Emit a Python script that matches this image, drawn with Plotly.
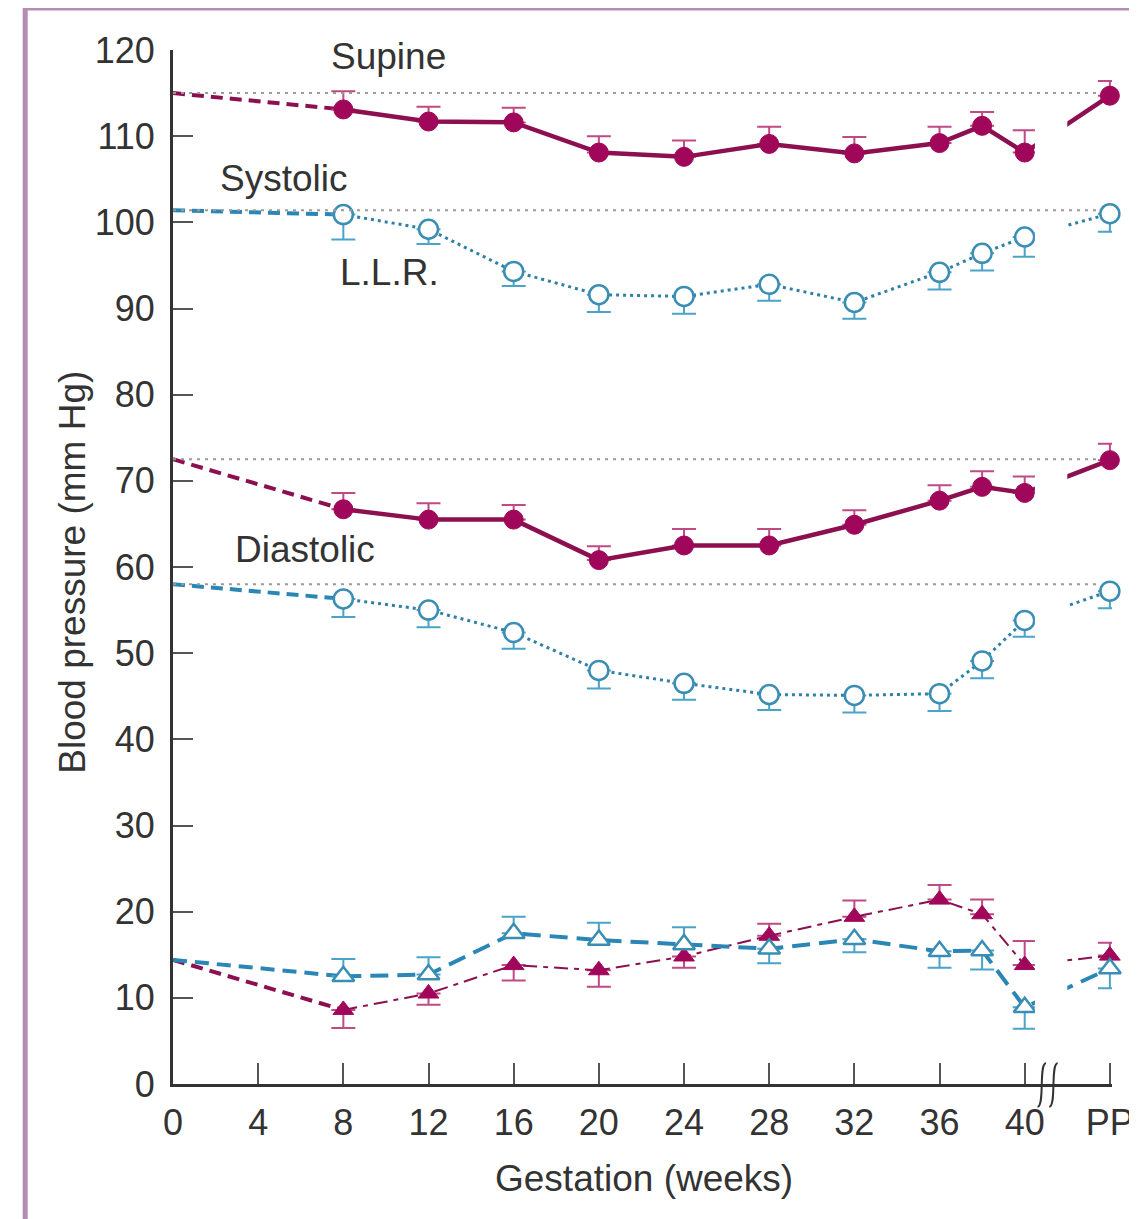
import plotly.graph_objects as go

# ---------------- data ----------------
weeks = [8, 12, 16, 20, 24, 28, 32, 36, 38, 40, 44]          # 44 = PP (postpartum)
x_tick_vals = [0, 4, 8, 12, 16, 20, 24, 28, 32, 36, 40, 44]
x_tick_text = ["0", "4", "8", "12", "16", "20", "24", "28", "32", "36", "40", "PP"]
y_tick_vals = [0, 10, 20, 30, 40, 50, 60, 70, 80, 90, 100, 110, 120]

# non-pregnant baseline values (week 0)
base_sys_supine = 115.0
base_sys_llr = 101.4
base_dia_supine = 72.5
base_dia_llr = 58.0
base_pulse_supine = 14.4
base_pulse_llr = 14.4

sys_supine = [113.1, 111.7, 111.6, 108.1, 107.6, 109.1, 108.0, 109.2, 111.2, 108.1, 114.7]
sys_supine_err = [2.1, 1.7, 1.7, 1.9, 1.9, 2.0, 1.9, 1.9, 1.6, 2.6, 1.7]

sys_llr = [100.9, 99.2, 94.3, 91.6, 91.4, 92.8, 90.7, 94.2, 96.4, 98.3, 101.0]
sys_llr_err = [2.9, 1.7, 1.7, 2.0, 2.0, 1.9, 1.9, 2.0, 2.0, 2.3, 2.1]

dia_supine = [66.7, 65.5, 65.5, 60.8, 62.5, 62.5, 64.9, 67.7, 69.3, 68.6, 72.4]
dia_supine_err = [1.9, 1.9, 1.7, 1.6, 1.9, 1.9, 1.7, 1.8, 1.8, 1.9, 1.9]

dia_llr = [56.3, 55.0, 52.4, 48.0, 46.5, 45.2, 45.1, 45.3, 49.1, 53.8, 57.2]
dia_llr_err = [2.1, 2.0, 1.9, 2.1, 1.9, 1.8, 2.0, 2.0, 2.0, 1.9, 2.0]

pulse_supine = [8.6, 10.5, 13.8, 13.2, 14.8, 17.2, 19.4, 21.4, 19.7, 13.8, 14.9]
pulse_supine_err_up = [0, 0, 0, 0, 0, 1.4, 1.9, 1.7, 1.7, 2.8, 1.5]
pulse_supine_err_down = [2.1, 1.3, 1.8, 1.9, 1.3, 0, 0, 0, 0, 0, 0]

pulse_llr = [12.5, 12.7, 17.5, 16.7, 16.2, 15.7, 16.8, 15.4, 15.5, 8.9, 13.4]
pulse_llr_err_up = [2.0, 2.0, 1.9, 2.0, 2.0, 0, 0, 0, 0, 0, 0]
pulse_llr_err_down = [0, 0, 0, 0, 0, 1.7, 1.5, 1.9, 2.2, 2.5, 2.3]

labels = [("Supine", 10.1, 119.2), ("Systolic", 5.2, 105.1),
          ("L.L.R.", 10.15, 94.2), ("Diastolic", 6.2, 62.0)]

# ---------------- styles ----------------
MAG = "#a0065a"
MAG_LINE = "#8c1050"
MAG_ERR = "#bf4a85"
CYA = "#3a8db3"
CYA_LINE = "#2f80a6"
CYA_DASH = "#2a86b5"
CYA_ERR = "#4aa3c8"
GRAY_DOT = "#9a9a9a"
TXT = "#333333"
FONT = "Liberation Sans, Arial, sans-serif"

fig = go.Figure()

def err(up, down, color):
    return dict(type="data", symmetric=False, array=up, arrayminus=down,
                color=color, thickness=2, width=12)

zeros = [0] * len(weeks)

# ---- pulse (triangles) ----
fig.add_trace(go.Scatter(x=[0, weeks[0]], y=[base_pulse_supine, pulse_supine[0]], mode="lines",
                         line=dict(color=MAG_LINE, width=4, dash="12px,7px"), hoverinfo="skip"))
fig.add_trace(go.Scatter(x=[0, weeks[0]], y=[base_pulse_llr, pulse_llr[0]], mode="lines",
                         line=dict(color=CYA_DASH, width=4, dash="14px,8px"), hoverinfo="skip"))
fig.add_trace(go.Scatter(x=weeks, y=pulse_supine, mode="lines+markers",
                         line=dict(color=MAG_LINE, width=2, dash="14px,6px,5px,6px"),
                         marker=dict(symbol="triangle-up", size=18, color=MAG,
                                     line=dict(color=MAG, width=1)),
                         error_y=err(pulse_supine_err_up, pulse_supine_err_down, MAG_ERR)))
fig.add_trace(go.Scatter(x=weeks, y=pulse_llr, mode="lines+markers",
                         line=dict(color=CYA_DASH, width=4, dash="18px,9px"),
                         marker=dict(symbol="triangle-up", size=19, color="white",
                                     line=dict(color=CYA, width=2.5)),
                         error_y=err(pulse_llr_err_up, pulse_llr_err_down, CYA_ERR)))

# ---- systolic / diastolic supine (filled circles) ----
for base, vals, e in [(base_sys_supine, sys_supine, sys_supine_err),
                      (base_dia_supine, dia_supine, dia_supine_err)]:
    fig.add_trace(go.Scatter(x=[0, weeks[0]], y=[base, vals[0]], mode="lines",
                             line=dict(color=MAG_LINE, width=4, dash="12px,7px"), hoverinfo="skip"))
    fig.add_trace(go.Scatter(x=weeks, y=vals, mode="lines+markers",
                             line=dict(color=MAG_LINE, width=4.5),
                             marker=dict(symbol="circle", size=19, color=MAG,
                                         line=dict(color=MAG, width=1)),
                             error_y=err(e, zeros, MAG_ERR)))

# ---- systolic / diastolic LLR (open circles) ----
for base, vals, e in [(base_sys_llr, sys_llr, sys_llr_err),
                      (base_dia_llr, dia_llr, dia_llr_err)]:
    fig.add_trace(go.Scatter(x=[0, weeks[0]], y=[base, vals[0]], mode="lines",
                             line=dict(color=CYA_DASH, width=4, dash="12px,7px"), hoverinfo="skip"))
    fig.add_trace(go.Scatter(x=weeks, y=vals, mode="lines+markers",
                             line=dict(color=CYA_LINE, width=3, dash="3px,4px"),
                             marker=dict(symbol="circle", size=19, color="white",
                                         line=dict(color=CYA, width=2.5)),
                             error_y=err(zeros, e, CYA_ERR)))

shapes = []
# axis break: hide the lines between week 40 and the postpartum segment
shapes.append(dict(type="rect", xref="x", yref="y", x0=40.48, x1=42.0, y0=2, y1=119,
                   fillcolor="white", line=dict(width=0), layer="above"))
# baseline dotted reference lines
for b in [base_sys_supine, base_sys_llr, base_dia_supine, base_dia_llr]:
    shapes.append(dict(type="line", xref="x", yref="y", x0=0, x1=43.5, y0=b, y1=b,
                       line=dict(color=GRAY_DOT, width=2, dash="3px,5px"), layer="above"))
# break symbol on x axis
for xc in [40.8, 41.35]:
    yt, yb = 0.02, -0.022
    path = (f"M {xc + 0.2},{yt} C {xc - 0.15},{yt} {xc + 0.15},{yb} {xc - 0.2},{yb}")
    shapes.append(dict(type="path", xref="x", yref="paper", path=path,
                       line=dict(color="#333333", width=2)))
# outer purple frame
shapes.append(dict(type="rect", xref="paper", yref="paper",
                   x0=-0.1574, x1=1.045, y0=-0.15, y1=1.0405,
                   line=dict(color="#b48cb4", width=5), fillcolor="rgba(0,0,0,0)", layer="below"))

annotations = []
for t, x, y in labels:
    annotations.append(dict(text=t, x=x, y=y, xref="x", yref="y", showarrow=False,
                            font=dict(size=37, color=TXT, family=FONT)))
annotations.append(dict(text="Blood pressure (mm Hg)", x=-0.107, y=0.495, xref="paper", yref="paper",
                        showarrow=False, textangle=-90, xanchor="center", yanchor="middle",
                        font=dict(size=37, color=TXT, family=FONT)))
annotations.append(dict(text="Gestation (weeks)", x=0.502, y=-0.091, xref="paper", yref="paper",
                        showarrow=False, xanchor="center", yanchor="middle",
                        font=dict(size=37, color=TXT, family=FONT)))

# the page body has an 8px margin, so the figure is offset by 8px right and down
fig.update_layout(
    width=1137, height=1219,
    margin=dict(l=165, r=33, t=42, b=143),
    paper_bgcolor="white", plot_bgcolor="white",
    showlegend=False,
    font=dict(family=FONT, color=TXT),
    shapes=shapes, annotations=annotations,
    xaxis=dict(range=[0, 44.1], tickvals=x_tick_vals, ticktext=x_tick_text,
               showgrid=False, zeroline=False, showline=True, linecolor="#333333", linewidth=3,
               ticks="inside", ticklen=21, tickwidth=2, tickcolor="#555555",
               tickfont=dict(size=36, color=TXT, family=FONT), ticklabelstandoff=5),
    yaxis=dict(range=[0, 120], tickvals=y_tick_vals,
               showgrid=False, zeroline=False, showline=True, linecolor="#333333", linewidth=3,
               ticks="inside", ticklen=20, tickwidth=2, tickcolor="#555555",
               tickfont=dict(size=36, color=TXT, family=FONT), ticklabelstandoff=8),
)

for tr in fig.data:
    tr.cliponaxis = False

fig.write_html("out.html")
